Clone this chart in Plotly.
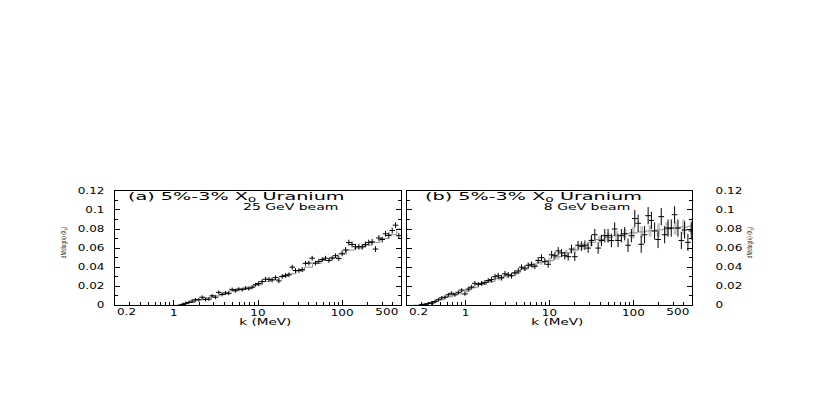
import math
import plotly.graph_objects as go

# ---------------- data ----------------
# panel (a): 25 GeV beam
k_a = [1.26, 1.38, 1.51, 1.65, 1.81, 1.98, 2.17, 2.38, 2.61, 2.85, 3.13, 3.42, 3.75, 4.11, 4.50,
       4.93, 5.40, 5.92, 6.48, 7.10, 7.78, 8.53, 9.34,
       10.2, 11.2, 12.3, 13.5, 14.7, 16.1, 17.7, 19.4, 21.2, 23.3, 25.5, 27.9, 30.6, 33.5, 36.7,
       40.2, 44.0, 48.2, 52.8, 57.9, 63.4, 69.5, 76.1, 83.4, 91.3,
       100, 110, 120, 131, 144, 158, 173, 189, 207, 227, 249, 273, 299, 327, 358, 393, 430, 471]
y_a = [0.0007, 0.002, 0.003, 0.0044, 0.0058, 0.0058, 0.0085, 0.0061, 0.0065, 0.0099, 0.0085, 0.0136,
       0.0113, 0.013, 0.0126, 0.0167, 0.0153, 0.017, 0.0164, 0.018, 0.0174, 0.019, 0.0215,
       0.0228, 0.0249, 0.0273, 0.0273, 0.0266, 0.029, 0.0256, 0.0303, 0.0314, 0.032, 0.040, 0.0365,
       0.0365, 0.0375, 0.044, 0.0443, 0.0494, 0.0443, 0.046, 0.048, 0.0494, 0.047, 0.0494, 0.052, 0.049,
       0.0545, 0.058, 0.0658, 0.0638, 0.0614, 0.0614, 0.0614, 0.0638, 0.0658, 0.0665, 0.059, 0.0706,
       0.069, 0.075, 0.0733, 0.0784, 0.084, 0.073]
err_a = [0.002, 0.002, 0.002, 0.002, 0.002, 0.002, 0.002, 0.002, 0.002, 0.002, 0.002, 0.002,
         0.002, 0.002, 0.002, 0.002, 0.002, 0.002, 0.002, 0.002, 0.002, 0.002, 0.002,
         0.0025, 0.0025, 0.0025, 0.0025, 0.0025, 0.0025, 0.0025, 0.0025, 0.0025, 0.0025, 0.0025, 0.0025,
         0.0025, 0.0025, 0.0025, 0.0025, 0.0025, 0.0025, 0.0025, 0.0025, 0.0025, 0.0025, 0.0025, 0.0025, 0.0025,
         0.003, 0.003, 0.003, 0.003, 0.003, 0.003, 0.003, 0.003, 0.003, 0.003, 0.003, 0.003,
         0.003, 0.003, 0.003, 0.003, 0.003, 0.003]
mc_k_a = [1.0, 1.26, 1.58, 2.0, 2.51, 3.16, 3.98, 5.01, 6.31, 7.94, 10, 12.6, 15.8, 20, 25.1,
          31.6, 39.8, 50.1, 63.1, 79.4, 100, 126, 158, 200, 251, 316, 398, 500]
mc_a = [0.0, 0.001, 0.003, 0.006, 0.008, 0.010, 0.012, 0.015, 0.017, 0.019, 0.0215, 0.025, 0.027,
        0.030, 0.033, 0.036, 0.040, 0.044, 0.047, 0.050, 0.0535, 0.058, 0.060, 0.063, 0.066, 0.070,
        0.074, 0.080]

# panel (b): 8 GeV beam
k_b = [0.299, 0.328, 0.360, 0.394, 0.431, 0.473, 0.518, 0.568, 0.622, 0.681, 0.746, 0.818, 0.896, 0.982,
       1.076, 1.18, 1.29, 1.42, 1.55, 1.70, 1.86, 2.04, 2.24, 2.45, 2.68, 2.94, 3.22, 3.53, 3.87, 4.24,
       4.64, 5.09, 5.57, 6.11, 6.69, 7.33, 8.03, 8.80, 9.64,
       10.6, 11.6, 12.7, 13.9, 15.2, 16.7, 18.3, 20.0, 21.9, 24.0, 26.4, 28.9, 31.6, 34.7, 38.0, 41.6,
       45.6, 49.9, 54.7, 59.9, 65.7, 71.9, 78.8, 86.4, 94.6,
       104, 114, 124, 136, 150, 164, 179, 197, 215, 236, 259, 283, 310, 340, 373, 408, 447, 490]
y_b = [0.0007, 0.001, 0.002, 0.0024, 0.004, 0.0058, 0.0078, 0.0085, 0.011, 0.0126, 0.011, 0.0136, 0.016, 0.012,
       0.017, 0.019, 0.023, 0.022, 0.023, 0.024, 0.026, 0.027, 0.030, 0.031, 0.029, 0.033, 0.032, 0.031, 0.034, 0.036,
       0.040, 0.039, 0.042, 0.043, 0.041, 0.047, 0.050, 0.046, 0.043,
       0.053, 0.052, 0.057, 0.055, 0.052, 0.051, 0.059, 0.051, 0.063, 0.062, 0.063, 0.060, 0.068, 0.074, 0.060, 0.068,
       0.073, 0.073, 0.068, 0.080, 0.068, 0.073, 0.075, 0.063, 0.073,
       0.091, 0.086, 0.064, 0.074, 0.094, 0.089, 0.078, 0.069, 0.093, 0.074, 0.081, 0.081, 0.095, 0.081, 0.068, 0.079, 0.066, 0.078]
err_b = [0.0015, 0.0015, 0.0015, 0.002, 0.002, 0.002, 0.002, 0.002, 0.002, 0.002, 0.002, 0.002, 0.002, 0.002,
         0.0025, 0.0025, 0.0025, 0.0025, 0.0025, 0.0025, 0.0025, 0.003, 0.003, 0.003, 0.003, 0.003, 0.003, 0.003, 0.003, 0.003,
         0.003, 0.003, 0.003, 0.003, 0.003, 0.0035, 0.0035, 0.0035, 0.0035,
         0.004, 0.004, 0.004, 0.004, 0.004, 0.004, 0.0045, 0.0045, 0.0045, 0.005, 0.005, 0.005, 0.006, 0.006, 0.006, 0.006,
         0.007, 0.007, 0.007, 0.007, 0.007, 0.007, 0.007, 0.007, 0.007,
         0.009, 0.009, 0.009, 0.009, 0.009, 0.009, 0.009, 0.009, 0.009, 0.009, 0.009, 0.009, 0.009, 0.009, 0.009, 0.009, 0.009, 0.009]
mc_k_b = [0.25, 0.32, 0.40, 0.50, 0.63, 0.79, 1.0, 1.26, 1.58, 2.0, 2.51, 3.16, 3.98, 5.01, 6.31, 7.94,
          10, 12.6, 15.8, 20, 25.1, 31.6, 39.8, 50.1, 63.1, 79.4, 100, 126, 158, 200, 251, 316, 398, 500]
mc_b = [0.0, 0.001, 0.003, 0.006, 0.009, 0.012, 0.015, 0.019, 0.022, 0.025, 0.028, 0.031, 0.034, 0.038,
        0.041, 0.045, 0.047, 0.051, 0.055, 0.058, 0.062, 0.066, 0.069, 0.071, 0.073, 0.075, 0.076, 0.077,
        0.078, 0.079, 0.080, 0.081, 0.082, 0.083]
mc_err_b = [0.001, 0.001, 0.001, 0.001, 0.001, 0.001, 0.0015, 0.0015, 0.0015, 0.0015, 0.002, 0.002, 0.002,
            0.002, 0.0025, 0.0025, 0.003, 0.003, 0.003, 0.0035, 0.0035, 0.004, 0.004, 0.005, 0.005, 0.005,
            0.006, 0.006, 0.006, 0.007, 0.007, 0.007, 0.008, 0.008]

x_tick_vals = [0.2, 1, 10, 100, 500]
x_tick_text = ["0.2", "1", "10", "100", "500"]
x_minor_vals = [0.3, 0.4, 0.5, 0.6, 0.7, 0.8, 0.9, 2, 3, 4, 5, 6, 7, 8, 9,
                20, 30, 40, 50, 60, 70, 80, 90, 200, 300, 400]
y_tick_vals = [0, 0.02, 0.04, 0.06, 0.08, 0.1, 0.12]
y_tick_text = ["0", "0.02", "0.04", "0.06", "0.08", "0.1", "0.12"]

title_a = "(a) 5%-3% X<sub>0</sub> Uranium"
title_b = "(b) 5%-3% X<sub>0</sub> Uranium"
sub_a = "25 GeV beam"
sub_b = "8 GeV beam"
x_title = "k (MeV)"
y_title = "dN/dlog(k) (X<sub>0</sub>)"

# ---------------- figure ----------------
W, H = 830, 415
FONT = "DejaVu Sans"


def px(x):
    return x / W


def py(y):
    return (H - y) / H


fig = go.Figure()

panels = [
    ("x", "y", k_a, y_a, err_a, mc_k_a, mc_a, None),
    ("x2", "y2", k_b, y_b, err_b, mc_k_b, mc_b, mc_err_b),
]
for xa, ya, kk, vv, ee, mk, mv, me in panels:
    fig.add_trace(go.Scatter(
        x=mk, y=mv, xaxis=xa, yaxis=ya, mode="lines",
        line=dict(color="#8c8c8c", width=1, shape="hvh"),
        error_y=(dict(type="data", array=me, color="#c4c4c4", thickness=3, width=0)
                 if me is not None else None),
        showlegend=False, hoverinfo="skip"))
    fig.add_trace(go.Scatter(
        x=kk, y=vv, xaxis=xa, yaxis=ya, mode="markers",
        marker=dict(symbol="line-ew", size=4, color="black",
                    line=dict(color="black", width=1)),
        error_y=dict(type="data", array=ee, color="black", thickness=1, width=0),
        showlegend=False))

xr = [math.log10(0.2), math.log10(500)]
common_x = dict(
    type="log", range=xr, showgrid=False, zeroline=False,
    showline=True, linecolor="black", linewidth=1, mirror=True,
    ticks="inside", ticklen=5, tickcolor="black", tickwidth=1,
    tickvals=x_tick_vals[1:4], ticktext=x_tick_text[1:4],
    tickfont=dict(family=FONT, size=8, color="black"),
    minor=dict(tickmode="array", tickvals=x_minor_vals, ticks="inside",
               ticklen=3, tickcolor="black", tickwidth=1, showgrid=False),
)
common_y = dict(
    range=[0, 0.12], showgrid=False, zeroline=False,
    showline=True, linecolor="black", linewidth=1, mirror="ticks",
    ticks="inside", ticklen=5, tickcolor="black", tickwidth=1,
    tickvals=y_tick_vals, ticktext=y_tick_text,
    tickfont=dict(family=FONT, size=8, color="black"),
    minor=dict(dtick=0.01, tick0=0, ticks="inside", ticklen=3,
               tickcolor="black", tickwidth=1, showgrid=False),
)

y_dom = [py(308), py(191)]
fig.update_layout(
    width=W, height=H, autosize=False,
    margin=dict(l=0, r=0, t=0, b=0),
    paper_bgcolor="white", plot_bgcolor="white",
    xaxis=dict(domain=[px(115), px(401)], anchor="y", **common_x),
    xaxis2=dict(domain=[px(407), px(692)], anchor="y2", **common_x),
    yaxis=dict(domain=y_dom, anchor="x", side="left", ticklabelstandoff=8, **common_y),
    yaxis2=dict(domain=y_dom, anchor="x2", side="right", ticklabelstandoff=21, **common_y),
)

annots = []
# edge tick labels (0.2 and 500) placed inward like the original
for xa in ("x", "x2"):
    annots.append(dict(x=math.log10(x_tick_vals[0]), y=py(315), xref=xa, yref="paper",
                       yanchor="middle", xanchor="left", align="left",
                       text=x_tick_text[0], showarrow=False, xshift=0,
                       font=dict(family=FONT, size=8, color="black")))
    annots.append(dict(x=math.log10(x_tick_vals[-1]), y=py(315), xref=xa, yref="paper",
                       yanchor="middle", xanchor="right", align="right",
                       text=x_tick_text[-1], showarrow=False, xshift=-1,
                       font=dict(family=FONT, size=8, color="black")))

for txt, x0 in ((title_a, 127), (title_b, 424)):
    annots.append(dict(x=px(x0), y=py(198), xref="paper", yref="paper",
                       xanchor="left", yanchor="middle", align="left", text=txt,
                       showarrow=False, borderpad=0,
                       font=dict(family=FONT, size=10, color="black")))
for txt, x1 in ((sub_a, 340), (sub_b, 632)):
    annots.append(dict(x=px(x1), y=py(208), xref="paper", yref="paper",
                       xanchor="right", yanchor="middle", align="right", text=txt,
                       showarrow=False, borderpad=0,
                       font=dict(family=FONT, size=8, color="black")))
for xc in (265, 557):
    annots.append(dict(x=px(xc), y=py(326), xref="paper", yref="paper",
                       xanchor="center", yanchor="middle", text=x_title,
                       showarrow=False, font=dict(family=FONT, size=8, color="black")))
for xc in (64, 750):
    annots.append(dict(x=px(xc), y=py(244), xref="paper", yref="paper",
                       xanchor="center", yanchor="middle", text=y_title, textangle=-90,
                       showarrow=False, font=dict(family=FONT, size=7, color="black")))
fig.update_layout(annotations=annots)

# remove the default page margin and horizontally stretch the wide,
# flattened lettering of the original figure
post = """
(function(){
document.body.style.margin = '0';
var gd = document.getElementById('{plot_id}');
gd.querySelectorAll('text').forEach(function(t){
  if (t.getAttribute('data-st')) return;
  var s = t.textContent || '';
  var sx = 1.5;
  if (s.indexOf('Uranium') >= 0) sx = 1.92;
  else if (s.indexOf('GeV') >= 0) sx = 1.75;
  else if (s.indexOf('MeV') >= 0) sx = 1.7;
  else if (s.indexOf('dN') >= 0) sx = 0.6;
  var bb; try { bb = t.getBBox(); } catch(e) { return; }
  if (!bb || bb.width === 0) return;
  var anc = t.getAttribute('text-anchor') || window.getComputedStyle(t).textAnchor || 'start';
  var cx = anc === 'middle' ? bb.x + bb.width/2 : (anc === 'end' ? bb.x + bb.width : bb.x);
  var tr = t.getAttribute('transform') || '';
  t.setAttribute('transform', tr + ' translate(' + cx + ',0) scale(' + sx + ',1) translate(' + (-cx) + ',0)');
  t.setAttribute('data-st', '1');
});
})();
"""

fig.write_html("out.html", post_script=post, config={"displayModeBar": False})
